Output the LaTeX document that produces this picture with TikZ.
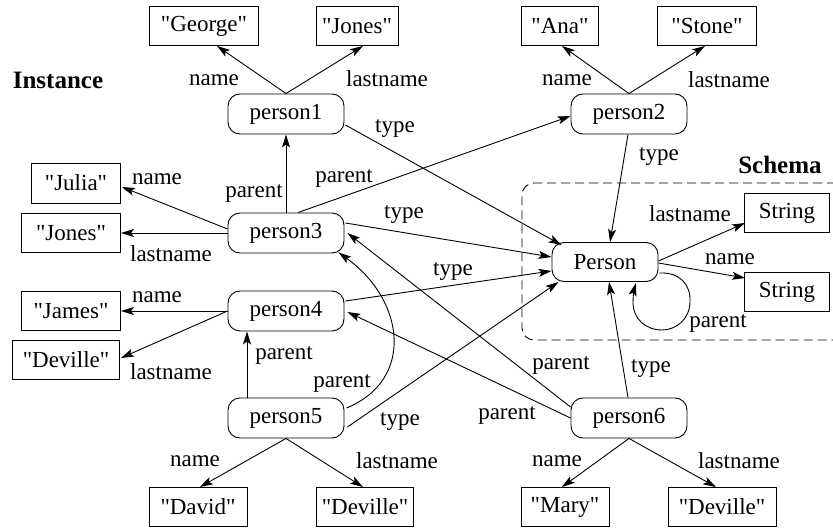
\documentclass[tikz,border=0pt]{standalone}
\usepackage{fontspec}
\setmainfont{Liberation Serif}[Ligatures=TeXOff]
\usetikzlibrary{arrows.meta,calc}
\begin{document}
\begin{tikzpicture}[x=1pt,y=-1pt,
  every node/.style={font=\fontsize{23}{27}\selectfont},
  val/.style={draw, line width=0.9pt, minimum height=39pt, inner sep=0pt},
  res/.style={draw, line width=0.9pt, rounded corners=12pt, minimum width=116pt, minimum height=40pt, inner sep=0pt},
  lbl/.style={inner sep=0pt},
  ttl/.style={inner sep=0pt, font=\fontsize{25}{29}\selectfont\bfseries},
  edge/.style={line width=0.9pt, -{Stealth[length=13pt,width=8pt,inset=3pt]}},
]
\useasboundingbox (0,0) rectangle (833,529);

% schema frame
\draw[line width=0.9pt, dash pattern=on 9pt off 5pt, rounded corners=12pt]
  (836,183) -- (522,183) -- (522,340) -- (836,340);

% value boxes
\node[val, minimum width=109pt] (george)   at (204,26)  {"George"};
\node[val, minimum width=82pt]  (jones1)   at (357,26)  {"Jones"};
\node[val, minimum width=77pt]  (ana)      at (560,26)  {"Ana"};
\node[val, minimum width=99pt]  (stone)    at (707,26)  {"Stone"};
\node[val, minimum width=89pt, minimum height=40pt] (julia) at (76,183) {"Julia"};
\node[val, minimum width=99pt]  (jones2)   at (71,233)  {"Jones"};
\node[val, minimum width=99pt]  (james)    at (71,311)  {"James"};
\node[val, minimum width=107pt] (deville1) at (66,360)  {"Deville"};
\node[val, minimum width=98pt]  (david)    at (198,507) {"David"};
\node[val, minimum width=97pt]  (deville2) at (365,507) {"Deville"};
\node[val, minimum width=88pt]  (mary)     at (565,507) {"Mary"};
\node[val, minimum width=108pt] (deville3) at (722,507) {"Deville"};
\node[val, minimum width=85pt]  (string1)  at (787,213) {String};
\node[val, minimum width=85pt]  (string2)  at (787,292) {String};

% resource nodes
\node[res] (p1) at (286,114) {person1};
\node[res] (p2) at (629,114) {person2};
\node[res] (p3) at (286,233) {person3};
\node[res] (p4) at (286,311) {person4};
\node[res] (p5) at (286,418) {person5};
\node[res] (p6) at (629,418) {person6};
\node[res, minimum width=106pt, minimum height=39pt] (Person) at (605,262) {Person};

% titles
\node[ttl] (tInstance) at (58,80) {Instance};
\node[ttl] (tSchema) at (780,165) {Schema};

% edges
\draw[edge] (p1.north) -- ($(george.south)+(13,0)$);
\draw[edge] (p1.north) -- ($(jones1.south)+(6,0)$);
\draw[edge] (p2.north) -- ($(ana.south)+(2,0)$);
\draw[edge] (p2.north) -- ($(stone.south)+(-2,0)$);
\draw[edge] ($(p1.east)+(1,11)$) -- ($(Person.north west)+(10,3)$);
\draw[edge] ($(p2.south)+(-1,0)$) -- ($(Person.north)+(5,0)$);
\draw[edge] (p3.north) -- (p1.south);
\draw[edge] ($(p3.north)+(12,0)$) -- ($(p2.west)+(0,2)$);
\draw[edge] ($(p3.east)+(1,-10)$) -- ($(Person.west)+(0,-5)$);
\draw[edge] ($(p3.west)+(0,-4)$) -- ($(julia.east)+(1,4)$);
\draw[edge] (p3.west) -- (jones2.east);
\draw[edge] (p4.west) -- (james.east);
\draw[edge] (p4.west) -- ($(deville1.east)+(1,-2)$);
\draw[edge] ($(p4.east)+(1,-10)$) -- ($(Person.west)+(0,9)$);
\draw[edge] ($(p5.north)+(-39,0)$) -- ($(p4.south)+(-39,0)$);
\draw[edge] ($(p5.east)+(2,-10)$) .. controls (415,380) and (405,300) .. ($(p3.south east)+(-6,-1)$);
\draw[edge] ($(p5.east)+(3,9)$) -- ($(Person.south west)+(7,0)$);
\draw[edge] (p5.south) -- ($(david.north)+(2,0)$);
\draw[edge] (p5.south) -- ($(deville2.north)+(-2,0)$);
\draw[edge] ($(p6.west)+(0,-11)$) -- ($(p3.east)+(3,0)$);
\draw[edge] (p6.west) -- ($(p4.east)+(3,1)$);
\draw[edge] ($(p6.north)+(-1,0)$) -- ($(Person.south)+(4,0)$);
\draw[edge] (p6.south) -- ($(mary.north)+(-3,0)$);
\draw[edge] (p6.south) -- ($(deville3.north)+(-6,0)$);
\draw[edge] ($(Person.east)+(0,-1)$) -- ($(string1.west)+(1,10)$);
\draw[edge] ($(Person.east)+(0,1)$) -- ($(string2.west)+(1,-14)$);
\draw[edge] ($(Person.east)+(1,11)$) .. controls (680,272) and (691,285) .. (690,302)
  .. controls (690,318) and (677,330) .. (662,330)
  .. controls (645,330) and (633,318) .. (633,303)
  .. controls (633,296) and (634,290) .. ($(Person.south)+(31,1)$);

% edge labels
\node[lbl] (l1)  at (214,80)  {name};
\node[lbl] (l2)  at (387,79)  {lastname};
\node[lbl] (l3)  at (567,80)  {name};
\node[lbl] (l4)  at (729,80)  {lastname};
\node[lbl] (l5)  at (395,129) {type};
\node[lbl] (l6)  at (659,157) {type};
\node[lbl] (l7)  at (254,193) {parent};
\node[lbl] (l8)  at (344,178) {parent};
\node[lbl] (l9)  at (404,215) {type};
\node[lbl] (l10) at (157,179) {name};
\node[lbl] (l11) at (171,254) {lastname};
\node[lbl] (l12) at (157,297) {name};
\node[lbl] (l13) at (171,372) {lastname};
\node[lbl] (l14) at (453,272) {type};
\node[lbl] (l15) at (284,355) {parent};
\node[lbl] (l16) at (342,383) {parent};
\node[lbl] (l17) at (400,422) {type};
\node[lbl] (l18) at (195,461) {name};
\node[lbl] (l19) at (397,461) {lastname};
\node[lbl] (l20) at (561,365) {parent};
\node[lbl] (l21) at (507,415) {parent};
\node[lbl] (l22) at (651,369) {type};
\node[lbl] (l23) at (557,461) {name};
\node[lbl] (l24) at (739,461) {lastname};
\node[lbl] (l25) at (690,214) {lastname};
\node[lbl] (l26) at (730,259) {name};
\node[lbl] (l27) at (718,323) {parent};
\end{tikzpicture}
\end{document}
